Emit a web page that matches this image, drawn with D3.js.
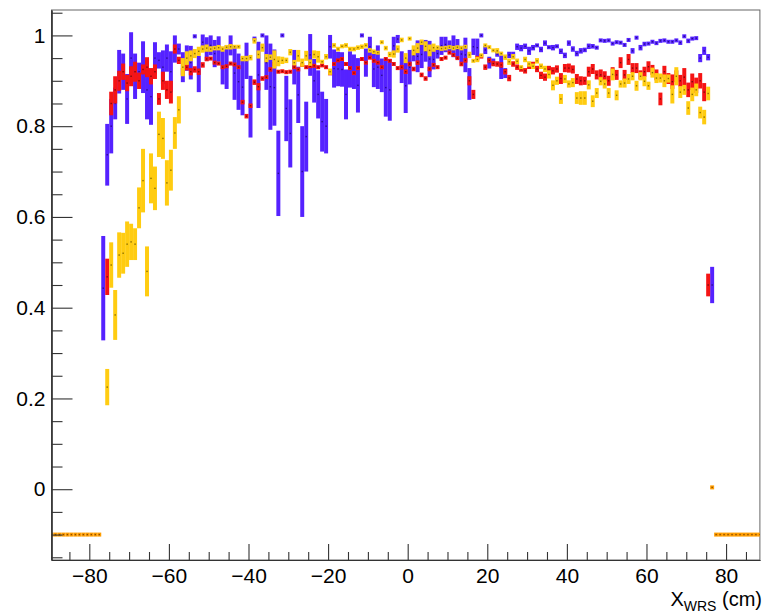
<!DOCTYPE html>
<html><head><meta charset="utf-8">
<script src="https://cdn.jsdelivr.net/npm/d3@7"></script>
<style>
body{margin:0;background:#fff}
svg{display:block}
text{font-family:"Liberation Sans",Arial,Helvetica,sans-serif;fill:#000}
</style>
</head><body>
<svg id="chart" width="763" height="613"></svg>
<script>
// ---- data (bin centres in cm) ----
const binX = [
-76.5,-75.5,-74.5,-73.5,-72.5,-71.5,-70.5,-69.5,-68.5,-67.5,
-66.5,-65.5,-64.5,-63.5,-62.5,-61.5,-60.5,-59.5,-58.5,-57.5,
-56.5,-55.5,-54.5,-53.5,-52.5,-51.5,-50.5,-49.5,-48.5,-47.5,
-46.5,-45.5,-44.5,-43.5,-42.5,-41.5,-40.5,-39.5,-38.5,-37.5,
-36.5,-35.5,-34.5,-33.5,-32.5,-31.5,-30.5,-29.5,-28.5,-27.5,
-26.5,-25.5,-24.5,-23.5,-22.5,-21.5,-20.5,-19.5,-18.5,-17.5,
-16.5,-15.5,-14.5,-13.5,-12.5,-11.5,-10.5,-9.5,-8.5,-7.5,
-6.5,-5.5,-4.5,-3.5,-2.5,-1.5,-0.5,0.5,1.5,2.5,
3.5,4.5,5.5,6.5,7.5,8.5,9.5,10.5,11.5,12.5,
13.5,14.5,15.5,16.5,17.5,18.5,19.5,20.5,21.5,22.5,
23.5,24.5,25.5,26.5,27.5,28.5,29.5,30.5,31.5,32.5,
33.5,34.5,35.5,36.5,37.5,38.5,39.5,40.5,41.5,42.5,
43.5,44.5,45.5,46.5,47.5,48.5,49.5,50.5,51.5,52.5,
53.5,54.5,55.5,56.5,57.5,58.5,59.5,60.5,61.5,62.5,
63.5,64.5,65.5,66.5,67.5,68.5,69.5,70.5,71.5,72.5,
73.5,74.5,75.5,76.5];

const blueY = [
0.443,0.737,0.80,0.85,0.92,0.92,0.86,0.95,0.91,0.92,
0.93,0.88,0.865,0.95,0.945,0.93,0.95,0.92,0.97,0.97,
0.93,0.95,0.94,0.998,0.915,0.985,0.97,0.978,0.96,0.97,
0.93,0.93,0.978,0.917,0.898,0.886,0.944,0.843,0.993,0.913,
1.0,0.94,0.887,0.885,0.696,1.0,0.839,0.784,0.93,0.869,
0.70,0.777,0.957,0.90,0.87,0.81,0.80,0.975,0.927,0.926,
0.925,0.87,0.925,0.92,0.89,1.0,0.94,0.975,0.926,0.93,
0.912,0.885,0.88,0.977,0.992,0.93,0.889,0.93,0.956,0.954,
0.958,0.966,0.948,0.947,0.96,0.977,0.98,0.976,0.976,0.97,
0.959,0.957,0.893,0.975,0.973,1.0,0.968,0.94,0.942,0.959,
0.93,0.917,0.957,0.957,0.975,0.972,0.976,0.966,0.973,0.978,
0.969,0.983,0.974,0.973,0.976,0.965,0.956,0.983,0.97,0.96,
0.966,0.968,0.976,0.976,0.973,0.989,0.988,0.989,0.982,0.985,
0.984,0.979,0.99,0.966,0.995,0.973,0.981,0.982,0.986,0.983,
0.988,0.989,0.986,0.986,0.989,0.984,0.998,0.988,0.993,0.994,
0.95,0.966,0.952,0.45];
const blueErr = [
0.115,0.068,0.06,0.035,0.048,0.04,0.055,0.057,0.05,0.02,
0.057,0.065,0.062,0.035,0.018,0.037,0.03,0.045,0.03,0.012,
0.033,0.028,0.037,0.004,0.04,0.017,0.026,0.022,0.03,0.028,
0.038,0.048,0.022,0.059,0.062,0.062,0.04,0.068,0.004,0.073,
0.004,0.06,0.095,0.084,0.094,0.004,0.072,0.075,0.038,0.062,
0.1,0.077,0.046,0.048,0.053,0.066,0.06,0.026,0.042,0.038,
0.038,0.055,0.04,0.038,0.06,0.004,0.031,0.022,0.04,0.048,
0.037,0.064,0.068,0.02,0.009,0.035,0.06,0.038,0.013,0.035,
0.03,0.024,0.04,0.022,0.011,0.02,0.017,0.013,0.024,0.022,
0.018,0.038,0.035,0.018,0.02,0.004,0.009,0.013,0.007,0.006,
0.026,0.011,0.007,0.007,0.007,0.007,0.006,0.009,0.006,0.004,
0.006,0.006,0.004,0.006,0.004,0.006,0.006,0.006,0.006,0.006,
0.006,0.005,0.006,0.005,0.004,0.004,0.004,0.004,0.004,0.004,
0.004,0.004,0.003,0.006,0.003,0.006,0.005,0.004,0.004,0.004,
0.003,0.004,0.004,0.004,0.004,0.005,0.003,0.005,0.004,0.003,
0.009,0.009,0.007,0.04];

const redY = [
null,0.468,0.85,0.88,0.90,0.92,0.895,0.91,0.92,0.90,
0.925,0.93,0.91,0.92,0.86,0.90,0.88,0.875,0.97,0.945,
0.92,0.93,0.92,0.925,0.92,0.935,0.948,0.949,0.94,0.938,
0.93,0.932,0.938,0.936,0.93,0.853,0.822,0.845,0.897,0.887,
0.905,0.908,0.925,0.937,0.92,0.921,0.919,0.92,0.93,0.925,
0.935,0.93,0.932,0.933,0.93,0.934,0.93,0.917,0.937,0.945,
0.948,0.937,0.928,0.917,0.928,0.948,0.94,0.951,0.944,0.94,
0.93,0.948,0.944,0.937,0.928,0.93,0.92,0.937,0.926,0.94,
0.913,0.905,0.926,0.935,0.93,0.948,0.951,0.962,0.957,0.95,
0.937,0.945,0.90,0.87,0.95,0.954,0.93,0.945,0.938,0.937,
0.935,0.92,0.906,0.937,0.93,0.926,0.922,0.932,0.936,0.926,
0.912,0.908,0.925,0.922,0.926,0.905,0.928,0.928,0.925,0.904,
0.9,0.9,0.92,0.926,0.913,0.913,0.91,0.9,0.92,0.913,
0.94,0.913,0.947,0.928,0.928,0.913,0.92,0.931,0.924,0.913,
0.86,0.92,0.905,0.898,0.91,0.9,0.908,0.88,0.898,0.89,
0.9,0.875,0.45,null];
const redErr = [
0,0.04,0.026,0.03,0.022,0.018,0.018,0.022,0.022,0.018,
0.011,0.022,0.018,0.016,0.013,0.02,0.02,0.025,0.01,0.008,
0.008,0.007,0.008,0.007,0.007,0.006,0.005,0.004,0.004,0.004,
0.004,0.004,0.004,0.004,0.004,0.005,0.005,0.005,0.006,0.008,
0.005,0.004,0.005,0.004,0.004,0.004,0.004,0.004,0.004,0.004,
0.004,0.004,0.004,0.004,0.004,0.004,0.004,0.005,0.004,0.004,
0.004,0.004,0.004,0.004,0.004,0.004,0.004,0.004,0.004,0.004,
0.004,0.004,0.004,0.004,0.004,0.005,0.005,0.005,0.005,0.005,
0.005,0.005,0.005,0.004,0.004,0.004,0.004,0.004,0.004,0.004,
0.005,0.005,0.01,0.01,0.005,0.005,0.006,0.005,0.006,0.006,
0.006,0.006,0.007,0.006,0.006,0.006,0.006,0.006,0.006,0.007,
0.008,0.008,0.008,0.008,0.008,0.012,0.009,0.01,0.009,0.011,
0.01,0.009,0.011,0.011,0.01,0.012,0.011,0.011,0.01,0.011,
0.012,0.011,0.012,0.011,0.011,0.01,0.011,0.012,0.011,0.012,
0.014,0.013,0.012,0.016,0.013,0.013,0.02,0.016,0.018,0.017,
0.017,0.02,0.025,0];

const yellowY = [
null,0.225,0.494,0.384,0.516,0.52,0.54,0.545,0.54,0.62,
0.68,0.48,0.685,0.663,0.782,0.773,0.675,0.703,0.785,0.836,
0.93,0.95,0.955,0.96,0.965,0.97,0.972,0.97,0.972,0.973,
0.97,0.974,0.975,0.975,0.975,0.949,0.949,0.951,0.988,0.958,
0.973,0.95,0.952,0.947,0.943,0.945,0.945,0.963,0.94,0.955,
0.94,0.955,0.94,0.958,0.953,0.942,0.953,0.92,0.978,0.97,
0.976,0.978,0.97,0.97,0.973,0.975,0.978,0.967,0.964,0.962,
0.985,0.972,0.958,0.959,0.97,0.99,0.95,0.993,0.967,0.972,
0.985,0.976,0.967,0.973,0.973,0.971,0.972,0.974,0.972,0.974,
0.972,0.975,0.957,0.944,0.947,0.956,0.978,0.974,0.967,0.966,
0.96,0.952,0.942,0.953,0.943,0.93,0.947,0.937,0.932,0.944,
0.932,0.926,0.914,0.89,0.9,0.86,0.904,0.893,0.896,0.862,
0.862,0.862,0.891,0.855,0.873,0.899,0.893,0.873,0.914,0.868,
0.893,0.895,0.904,0.91,0.889,0.91,0.899,0.889,0.918,0.906,
0.906,0.9,0.905,0.87,0.91,0.875,0.88,0.84,0.87,0.88,
0.83,0.82,0.872,null];
const yellowErr = [
0,0.04,0.05,0.055,0.05,0.045,0.05,0.04,0.035,0.045,
0.07,0.055,0.055,0.048,0.05,0.045,0.05,0.045,0.035,0.03,
0.02,0.015,0.012,0.01,0.01,0.008,0.008,0.006,0.005,0.006,
0.006,0.005,0.006,0.004,0.004,0.006,0.006,0.006,0.006,0.009,
0.009,0.009,0.006,0.02,0.011,0.008,0.006,0.007,0.006,0.013,
0.009,0.011,0.007,0.009,0.013,0.004,0.006,0.007,0.005,0.005,
0.004,0.005,0.005,0.005,0.005,0.005,0.005,0.005,0.005,0.004,
0.004,0.005,0.006,0.008,0.008,0.005,0.011,0.004,0.011,0.011,
0.006,0.011,0.013,0.009,0.005,0.005,0.005,0.004,0.005,0.004,
0.005,0.004,0.007,0.004,0.006,0.004,0.004,0.004,0.004,0.006,
0.004,0.006,0.007,0.006,0.006,0.004,0.006,0.006,0.006,0.006,
0.006,0.007,0.009,0.011,0.009,0.011,0.009,0.008,0.01,0.013,
0.015,0.015,0.01,0.013,0.011,0.009,0.01,0.011,0.013,0.011,
0.008,0.01,0.011,0.009,0.011,0.009,0.011,0.009,0.011,0.011,
0.01,0.014,0.009,0.02,0.02,0.013,0.011,0.015,0.015,0.014,
0.013,0.016,0.015,0];

// out-of-acceptance entries (orange)
const outX = [-89.5,-88.5,-87.5,-86.5,-85.5,-84.5,-83.5,-82.5,-81.5,-80.5,-79.5,-78.5,-77.5,
  76.5,77.5,78.5,79.5,80.5,81.5,82.5,83.5,84.5,85.5,86.5,87.5,88.5];
const outY = [-0.1,-0.1,-0.1,-0.1,-0.1,-0.1,-0.1,-0.1,-0.1,-0.1,-0.1,-0.1,-0.1,
  0.004,-0.1,-0.1,-0.1,-0.1,-0.1,-0.1,-0.1,-0.1,-0.1,-0.1,-0.1,-0.1];

const xTickValues = [-80,-60,-40,-20,0,20,40,60,80];
const xTickLabels = ["\u221280","\u221260","\u221240","\u221220","0","20","40","60","80"];
const yTickValues = [0,0.2,0.4,0.6,0.8,1];
const yTickLabels = ["0","0.2","0.4","0.6","0.8","1"];

// ---- layout ----
const svg = d3.select("#chart");
const L = 51.5, R = 759.9, T = 10, B = 560;
const x = d3.scaleLinear().domain([-89.5, 88.5]).range([L, R]);
const y = d3.scaleLinear().domain([-0.156, 1.056]).range([B, T]);

svg.append("defs").append("clipPath").attr("id","clip")
  .append("rect").attr("x",L).attr("y",T).attr("width",R-L).attr("height",B-T);

// frame
svg.append("rect").attr("x",L).attr("y",T).attr("width",R-L).attr("height",B-T)
  .attr("fill","none").attr("stroke","#666").attr("stroke-width",1);

const plot = svg.append("g").attr("clip-path","url(#clip)");

function drawSeries(xs, ys, es, fill, dot){
  const pts = xs.map((c,i)=>({c, v: ys[i], e: es ? es[i] : 0})).filter(d=>d.v!==null);
  const g = plot.append("g");
  g.selectAll("rect.bar").data(pts).enter().append("rect")
    .attr("x", d=>x(d.c-0.5))
    .attr("width", d=>x(d.c+0.5)-x(d.c-0.5))
    .attr("y", d=>{const h=Math.max(y(d.v-d.e)-y(d.v+d.e),4); return y(d.v)-h/2;})
    .attr("height", d=>Math.max(y(d.v-d.e)-y(d.v+d.e),4))
    .attr("fill", fill);
  g.selectAll("rect.dot").data(pts).enter().append("rect")
    .attr("x", d=>x(d.c)-0.7).attr("y", d=>y(d.v)-0.7)
    .attr("width",1.4).attr("height",1.4).attr("fill",dot);
}

drawSeries(binX, blueY, blueErr, "#5522ff", "#2a0c8c");
drawSeries(binX, redY, redErr, "#f51414", "#7a0a0a");
drawSeries(binX, yellowY, yellowErr, "#ffcc11", "#8a6d00");
drawSeries(outX, outY, null, "#ff9d00", "#8a4d00");

// axes
const axisColor = "#333";
const xMinor = d3.range(-85, 89, 5).filter(v=>v%20!==0);
const xAx = svg.append("g").attr("transform",`translate(0,${B})`);
xAx.call(d3.axisBottom(x).tickValues(xMinor).tickSize(-8).tickSizeOuter(0).tickFormat(""));
const xAxM = svg.append("g").attr("transform",`translate(0,${B})`);
xAxM.call(d3.axisBottom(x).tickValues(xTickValues).tickSize(-16).tickSizeOuter(0).tickPadding(8)
  .tickFormat((d,i)=>xTickLabels[i]));
const yMinor = d3.range(-0.15, 1.06, 0.05).map(v=>Math.round(v*100)/100).filter(v=>Math.abs(v*5-Math.round(v*5))>1e-6);
const yAx = svg.append("g").attr("transform",`translate(${L},0)`);
yAx.call(d3.axisLeft(y).tickValues(yMinor).tickSize(-11).tickSizeOuter(0).tickFormat(""));
const yAxM = svg.append("g").attr("transform",`translate(${L},0)`);
yAxM.call(d3.axisLeft(y).tickValues(yTickValues).tickSize(-21).tickSizeOuter(0).tickPadding(6)
  .tickFormat((d,i)=>yTickLabels[i]));
svg.selectAll(".domain").attr("stroke",axisColor).attr("stroke-width",1.2);
svg.selectAll(".tick line").attr("stroke",axisColor).attr("stroke-width",1.1);
svg.selectAll(".tick text").attr("font-size",21).attr("fill","#000")
  .style("font-family",'"Liberation Sans",Arial,Helvetica,sans-serif');

// axis title
const title = svg.append("text").attr("x",762).attr("y",606).attr("text-anchor","end")
  .attr("font-size",20);
title.append("tspan").text("X");
title.append("tspan").attr("font-size",14).attr("dy",5).text("WRS");
title.append("tspan").attr("dy",-5).text(" (cm)");
</script>
</body></html>
